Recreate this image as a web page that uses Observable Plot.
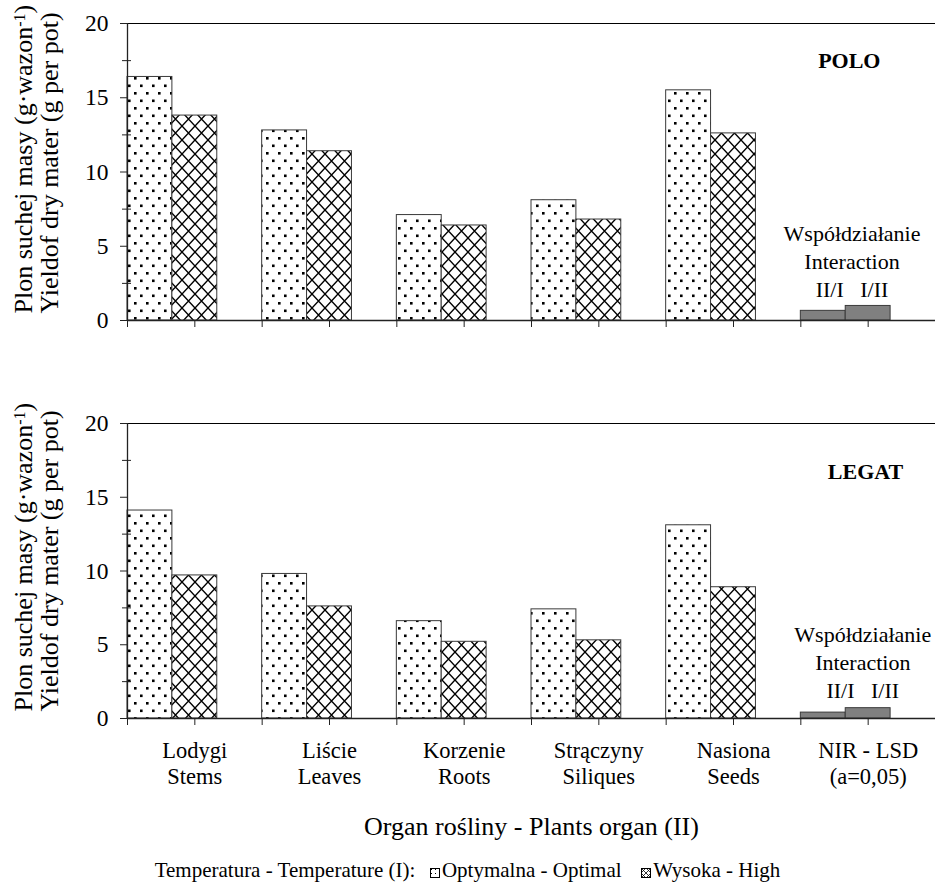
<!DOCTYPE html>
<html><head><meta charset="utf-8">
<script src="https://cdn.jsdelivr.net/npm/d3@7"></script>
<script src="https://cdn.jsdelivr.net/npm/@observablehq/plot@0.6"></script>
<style>
body{margin:0;background:#fff;font-family:"Liberation Serif","Times New Roman",serif;color:#000;}
#chart{width:935px;}
#chart > svg{display:block;}
#chart svg text{font-family:"Liberation Serif","Times New Roman",serif !important;}
.legend{height:43px;box-sizing:border-box;padding-top:18px;font-size:21px;line-height:24px;text-align:center;white-space:nowrap;font-family:"Liberation Serif",serif;}
#chart .legend svg{display:inline-block;vertical-align:-1px;margin:0 2px 0 4px;}
</style></head><body>
<svg width="0" height="0" style="position:absolute">
<defs>
<pattern id="dots" patternUnits="userSpaceOnUse" width="12" height="15">
<rect width="12" height="15" fill="#fff"/>
<rect x="2" y="2" width="2.6" height="2.6" fill="#000"/>
<rect x="8" y="9.5" width="2.6" height="2.6" fill="#000"/>
</pattern>
<pattern id="cross" patternUnits="userSpaceOnUse" width="13" height="14">
<rect width="13" height="14" fill="#fff"/>
<path d="M0,0L13,14M13,0L0,14" stroke="#000" stroke-width="1.4"/>
</pattern>
<pattern id="dotsS" patternUnits="userSpaceOnUse" width="4" height="4">
<rect width="4" height="4" fill="#fff"/>
<rect x="1" y="1" width="1" height="1" fill="#000"/>
</pattern>
<pattern id="crossS" patternUnits="userSpaceOnUse" width="5" height="5">
<rect width="5" height="5" fill="#fff"/>
<path d="M0,0L5,5M5,0L0,5" stroke="#000" stroke-width="0.8"/>
</pattern>
</defs></svg>
<div id="chart"></div>
<script>
// ---- data ----
const organsPL = ["Lodygi", "Liście", "Korzenie", "Strączyny", "Nasiona", "NIR - LSD"];
const organsEN = ["Stems", "Leaves", "Roots", "Siliques", "Seeds", "(a=0,05)"];
const poloOptimal = [16.4, 12.8, 7.1, 8.1, 15.5];
const poloHigh = [13.8, 11.4, 6.4, 6.8, 12.6];
const poloLSD = [0.65, 0.98];      // II/I, I/II
const legatOptimal = [14.1, 9.8, 6.6, 7.4, 13.1];
const legatHigh = [9.7, 7.6, 5.2, 5.3, 8.9];
const legatLSD = [0.4, 0.7];       // II/I, I/II
const yTicks = [0, 5, 10, 15, 20];
const yMinorTicks = [2.5, 7.5, 12.5, 17.5];
const varieties = ["POLO", "LEGAT"];
const interactionText = "Współdziałanie\nInteraction\nII/I   I/II";
const yTitle1 = "Plon suchej masy (g·wazon-1)";
const yTitle2 = "Yieldof dry mater (g per pot)";
const xTitle = "Organ rośliny - Plants organ (II)";
const legendTitle = "Temperatura - Temperature (I):";
const seriesNames = ["Optymalna - Optimal", "Wysoka - High"];

const xTicks = d3.range(0, 6.01, 0.5);
const FONT = "Liberation Serif";

function rows(values, slot) {
  return values.map((v, i) => ({i, v, x1: i + slot / 3, x2: i + (slot + 1) / 3}));
}
function lsdRows(values) {
  return values.map((v, k) => ({v, x1: 5 + k / 3, x2: 5 + (k + 1) / 3}));
}

function panel({opt, high, lsd, name, nameX, nameY, interX, interY, height, marginBottom, withLabels}) {
  const marks = [
    Plot.rectY(rows(opt, 0), {x1: "x1", x2: "x2", y: "v", fill: "url(#dots)", stroke: "#3a3a3a", strokeWidth: 1}),
    Plot.rectY(rows(high, 1), {x1: "x1", x2: "x2", y: "v", fill: "url(#cross)", stroke: "#3a3a3a", strokeWidth: 1}),
    Plot.rectY(lsdRows(lsd), {x1: "x1", x2: "x2", y: "v", fill: "#808080", stroke: "#3a3a3a", strokeWidth: 1}),
    Plot.ruleY([20], {stroke: "#000", strokeWidth: 1.2}),
    Plot.ruleY([0], {stroke: "#222", strokeWidth: 1.6}),
    Plot.ruleX([0], {y1: 0, y2: 20, stroke: "#222", strokeWidth: 1.3}),
    Plot.axisY({ticks: yTicks, tickSize: 7, tickPadding: 12, fontSize: 23.5, fontFamily: FONT, stroke: "#222", label: null}),
    Plot.axisY({ticks: yMinorTicks, tickSize: 9, dx: 4, tickFormat: () => "", stroke: "#222", label: null}),
    Plot.axisX({ticks: xTicks, tickSize: 7, tickFormat: () => "", stroke: "#222", label: null}),
    Plot.text([name], {x: nameX, y: nameY, text: d => d, fontWeight: "bold", fontSize: 22, fontFamily: FONT}),
    Plot.text([interactionText], {x: interX, y: interY, text: d => d, fontSize: 22, fontFamily: FONT, lineHeight: 1.27, lineAnchor: "middle"}),
    Plot.text([yTitle1], {frameAnchor: "bottom-left", text: d => d, rotate: -90, textAnchor: "start", lineAnchor: "middle", dx: -104, dy: -7, fontSize: 26, fontFamily: FONT}),
    Plot.text([yTitle2], {frameAnchor: "bottom-left", text: d => d, rotate: -90, textAnchor: "start", lineAnchor: "middle", dx: -78, dy: -7, fontSize: 26, fontFamily: FONT})
  ];
  if (withLabels) {
    marks.push(
      Plot.text(organsPL, {x: (d, i) => i + 0.5, frameAnchor: "bottom", text: (d, i) => organsPL[i] + "\n" + organsEN[i], lineAnchor: "top", dy: 22, fontSize: 22.5, fontFamily: FONT, lineHeight: 1.12}),
      Plot.text([xTitle], {frameAnchor: "bottom", text: d => d, lineAnchor: "middle", dy: 108, fontSize: 26, fontFamily: FONT})
    );
  }
  const svg = Plot.plot({
    width: 935, height, marginTop: 23, marginBottom, marginLeft: 127, marginRight: 0,
    x: {domain: [0, 6], axis: null},
    y: {domain: [0, 20], axis: null},
    style: {fontFamily: FONT, fontSize: "22px", color: "#000", background: "#fff", overflow: "visible"},
    marks
  });
  // superscript for the unit
  d3.select(svg).selectAll("text").filter(function() { return this.textContent === yTitle1; })
    .each(function() {
      const t = d3.select(this);
      t.text(null);
      t.append("tspan").text("Plon suchej masy (g·wazon");
      t.append("tspan").attr("dy", "-0.45em").attr("font-size", "16px").text("-1");
      t.append("tspan").attr("dy", "0.3em").text(")");
    });
  return svg;
}

const chart = document.getElementById("chart");
chart.appendChild(panel({opt: poloOptimal, high: poloHigh, lsd: poloLSD, name: varieties[0],
  nameX: 5.36, nameY: 17.5, interX: 5.38, interY: 4.05, height: 400, marginBottom: 80, withLabels: false}));
chart.appendChild(panel({opt: legatOptimal, high: legatHigh, lsd: legatLSD, name: varieties[1],
  nameX: 5.48, nameY: 16.7, interX: 5.46, interY: 3.92, height: 440, marginBottom: 122, withLabels: true}));

// legend
const leg = document.createElement("div");
leg.className = "legend";
const sw = (fill) => `<svg width="10" height="10"><rect x="0.5" y="0.5" width="9" height="9" fill="${fill}" stroke="#000" stroke-width="1"/></svg>`;
leg.innerHTML = `${legendTitle}&nbsp; ${sw("url(#dotsS)")}${seriesNames[0]}&nbsp;&nbsp; ${sw("url(#crossS)")}${seriesNames[1]}`;
chart.appendChild(leg);
</script>
</body></html>
